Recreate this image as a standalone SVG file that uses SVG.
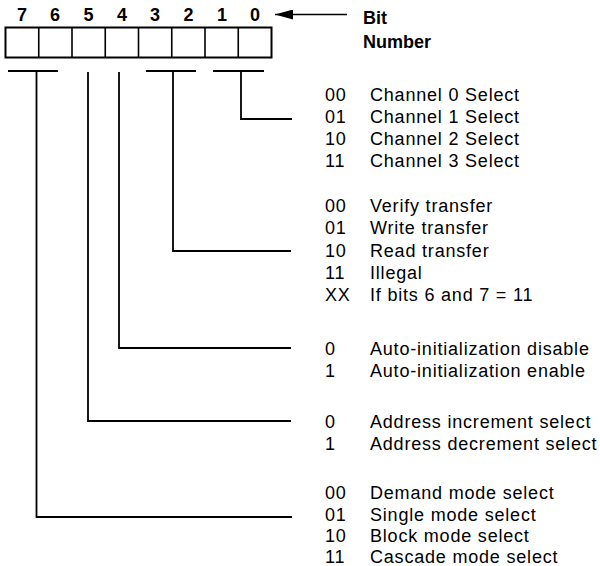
<svg xmlns="http://www.w3.org/2000/svg" width="600" height="566" viewBox="0 0 600 566">
<style>
.t{font-family:"Liberation Sans",Arial,sans-serif;font-size:18px;letter-spacing:0.8px;fill:#000}
.b{font-family:"Liberation Sans",Arial,sans-serif;font-size:18px;font-weight:bold;fill:#000}
.c{fill:none;stroke:#000;stroke-width:1.8}
</style>
<defs>
<marker id="ah" markerWidth="18" markerHeight="10" refX="18" refY="5" orient="auto" markerUnits="userSpaceOnUse">
<path d="M0,0 L18,5 L0,10 Z" fill="#000"/>
</marker>
</defs>
<g id="register">
<rect x="5.5" y="27.5" width="266" height="30" fill="#fff" stroke="#000" stroke-width="2"/>
<path d="M38.75,27.5V57.5M72,27.5V57.5M105.25,27.5V57.5M138.5,27.5V57.5M171.75,27.5V57.5M205,27.5V57.5M238.25,27.5V57.5" stroke="#000" stroke-width="1.6"/>
<g class="b" text-anchor="middle" font-size="19">
<text x="22" y="21">7</text><text x="55" y="21">6</text><text x="88.5" y="21">5</text><text x="122" y="21">4</text><text x="155" y="21">3</text><text x="188.5" y="21">2</text><text x="222" y="21">1</text><text x="255" y="21">0</text>
</g>
</g>
<g id="bitnumber">
<line x1="347" y1="14.5" x2="275" y2="14.5" stroke="#000" stroke-width="1.6" marker-end="url(#ah)"/>
<text class="b" x="363" y="24" font-size="19">Bit</text>
<text class="b" x="363" y="48" font-size="19">Number</text>
</g>
<g id="connectors" class="c">
<path d="M8,71H58M36.5,71V517H292"/>
<path d="M88,72V421H291"/>
<path d="M119,72V348H291"/>
<path d="M146,71H196M173,71V251H291"/>
<path d="M213,71H264M241,71V119H292"/>
</g>
<g id="channel" class="t">
<text x="325" y="101">00</text><text x="370" y="101">Channel 0 Select</text>
<text x="325" y="123">01</text><text x="370" y="123">Channel 1 Select</text>
<text x="325" y="145">10</text><text x="370" y="145">Channel 2 Select</text>
<text x="325" y="167">11</text><text x="370" y="167">Channel 3 Select</text>
</g>
<g id="transfer" class="t">
<text x="325" y="212">00</text><text x="370" y="212">Verify transfer</text>
<text x="325" y="234">01</text><text x="370" y="234">Write transfer</text>
<text x="325" y="257">10</text><text x="370" y="257">Read transfer</text>
<text x="325" y="279">11</text><text x="370" y="279">Illegal</text>
<text x="325" y="301">XX</text><text x="370" y="301">If bits 6 and 7 = 11</text>
</g>
<g id="autoinit" class="t">
<text x="325" y="355">0</text><text x="370" y="355">Auto-initialization disable</text>
<text x="325" y="377">1</text><text x="370" y="377">Auto-initialization enable</text>
</g>
<g id="address" class="t">
<text x="325" y="428">0</text><text x="370" y="428">Address increment select</text>
<text x="325" y="450">1</text><text x="370" y="450">Address decrement select</text>
</g>
<g id="mode" class="t">
<text x="325" y="499">00</text><text x="370" y="499">Demand mode select</text>
<text x="325" y="520.5">01</text><text x="370" y="520.5">Single mode select</text>
<text x="325" y="542">10</text><text x="370" y="542">Block mode select</text>
<text x="325" y="563">11</text><text x="370" y="563">Cascade mode select</text>
</g>
</svg>
